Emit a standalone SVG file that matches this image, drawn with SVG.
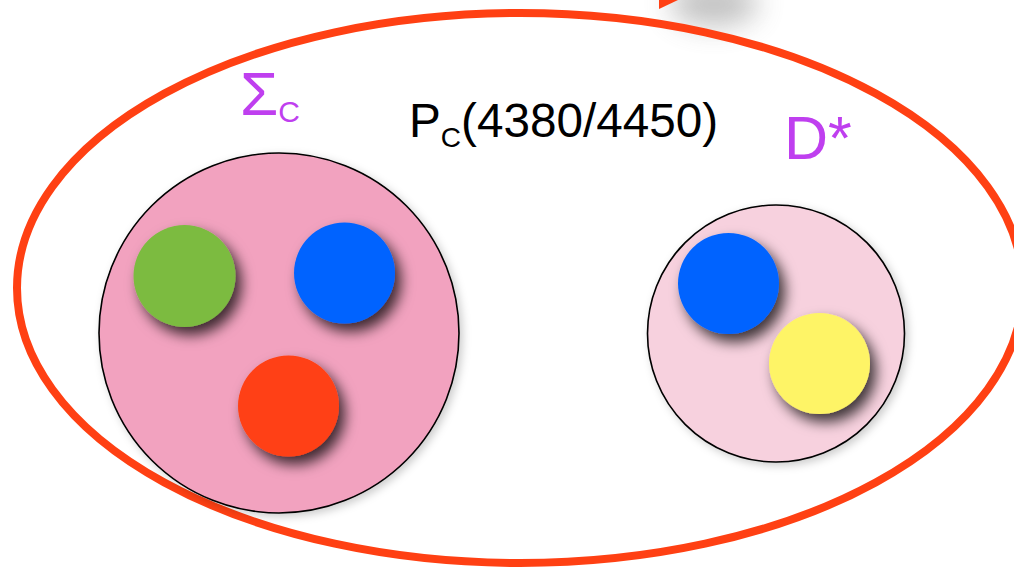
<svg xmlns="http://www.w3.org/2000/svg" width="1014" height="568" viewBox="0 0 1014 568">
  <defs>
    <filter id="ballShadow" x="-50%" y="-50%" width="200%" height="200%">
      <feDropShadow dx="6" dy="8" stdDeviation="7" flood-color="#000" flood-opacity="0.75"/>
    </filter>
    <filter id="softShadow" x="-20%" y="-20%" width="140%" height="140%">
      <feDropShadow dx="3" dy="3" stdDeviation="4" flood-color="#000" flood-opacity="0.2"/>
    </filter>
    <filter id="blur" x="-100%" y="-100%" width="300%" height="300%">
      <feGaussianBlur stdDeviation="14"/>
    </filter>
  </defs>
  <style>
    .hadron { stroke: #000; stroke-width: 1.6; }
    .quark { stroke: none; filter: url(#ballShadow); }
    .label { font-family: "Liberation Sans", Arial, sans-serif; }
    .purple { fill: #BF3FEF; }
  </style>
  <rect width="1014" height="568" fill="#fff"/>

  <g id="connectors">
    <ellipse cx="714" cy="4" rx="44" ry="22" fill="#777" opacity="0.45" filter="url(#blur)"/>
    <polygon points="659,0 678,0 659,9" fill="#FF4013"/>
  </g>

  <g id="pentaquark">
    <ellipse cx="520" cy="288" rx="503" ry="275" fill="none" stroke="#FF4013" stroke-width="8"/>
    <text class="label" x="409" y="137" font-size="47.7" fill="#000">P<tspan font-size="28" dy="10">C</tspan><tspan dy="-10">(4380/4450)</tspan></text>
  </g>

  <g id="sigma-c">
    <circle class="hadron" cx="279" cy="333" r="180" fill="#F2A2BF" filter="url(#softShadow)"/>
    <circle class="quark" cx="184.5" cy="276" r="51" fill="#7BBB41"/>
    <circle class="quark" cx="344.5" cy="273" r="50.5" fill="#0064FF"/>
    <circle class="quark" cx="288.5" cy="406" r="50.5" fill="#FF4013"/>
    <text class="label purple" x="240" y="115" font-size="62">Σ<tspan font-size="30" dy="7">C</tspan></text>
  </g>

  <g id="d-star">
    <circle class="hadron" cx="776" cy="333.5" r="128.5" fill="#F7D1DE" filter="url(#softShadow)"/>
    <circle class="quark" cx="728.5" cy="283.5" r="50.5" fill="#0064FF"/>
    <circle class="quark" cx="819.5" cy="363.5" r="50.5" fill="#FEF466"/>
    <text class="label purple" x="784" y="159" font-size="61">D*</text>
  </g>
</svg>
